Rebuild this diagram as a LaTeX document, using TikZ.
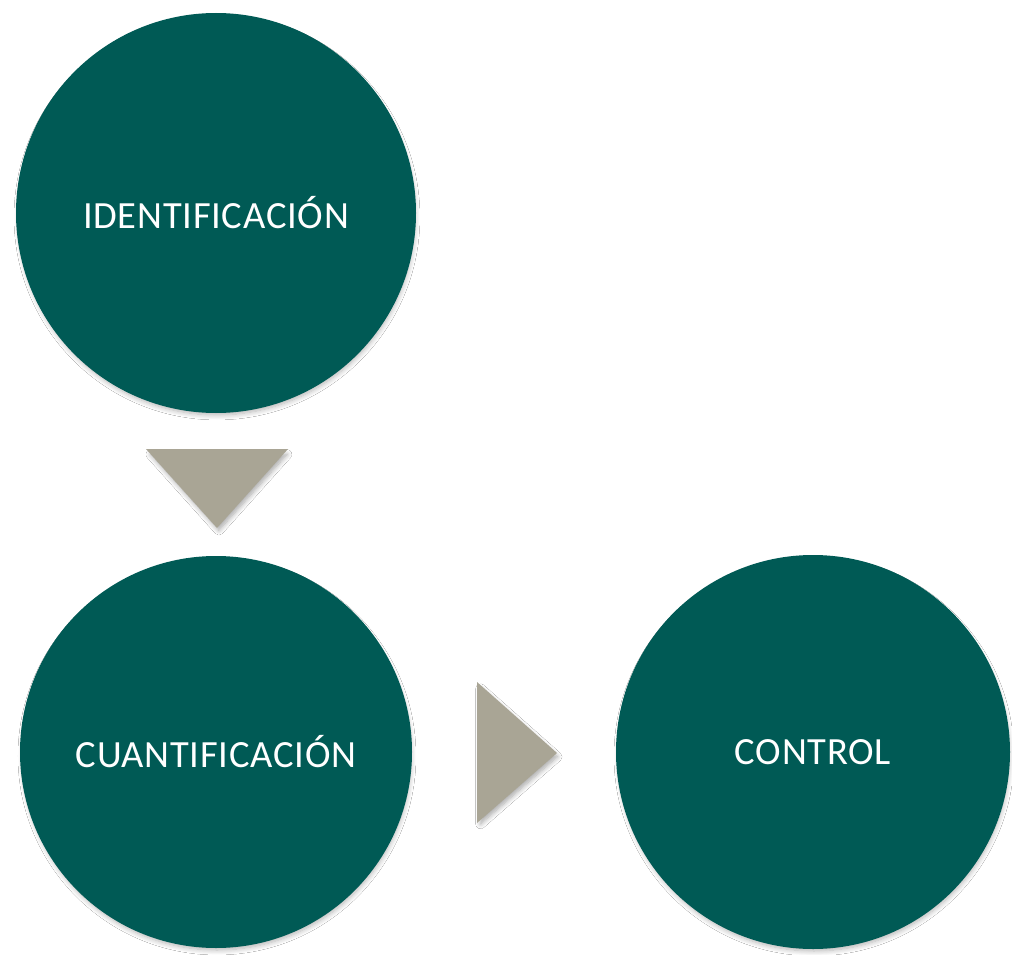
\documentclass[tikz,border=0pt]{standalone}
\usepackage{fontspec}
\setmainfont{Carlito}
\newfontfamily\labelfont[LetterSpace=2]{Carlito}
\usetikzlibrary{shadows.blur}
\definecolor{teal}{HTML}{005A55}
\definecolor{tan}{HTML}{A9A595}
\tikzset{
  stage/.style={circle, fill=teal, text=white, inner sep=0pt,
    font=\labelfont\fontsize{38.5}{42}\selectfont,
    blur shadow={shadow xshift=1pt, shadow yshift=-4pt, shadow blur radius=5pt,
      shadow blur steps=8, shadow opacity=30, shadow scale=0.99}},
  pointer/.style={fill=tan,
    blur shadow={shadow xshift=2pt, shadow yshift=-4pt, shadow blur radius=5pt,
      shadow blur steps=8, shadow opacity=35, shadow scale=0.96}}
}
\begin{document}
\begin{tikzpicture}[x=1pt,y=-1pt]
  \fill[white] (0,0) rectangle (1012,955);
  \useasboundingbox (0,0) rectangle (1012,955);

  % stages
  \node[stage, minimum size=400pt] (ident) at (216,213) {IDENTIFICACIÓN};
  \node[stage, minimum size=392pt] (cuant) at (216,752) {CUANTIFICACIÓN};
  \node[stage, minimum size=394pt] (ctrl)  at (813,752) {CONTROL};

  % flow markers between stages
  \path[pointer] (146,449) -- (288,449) -- (217,528) -- cycle;
  \path[pointer] (477,682) -- (557,753) -- (477,823) -- cycle;
\end{tikzpicture}
\end{document}
